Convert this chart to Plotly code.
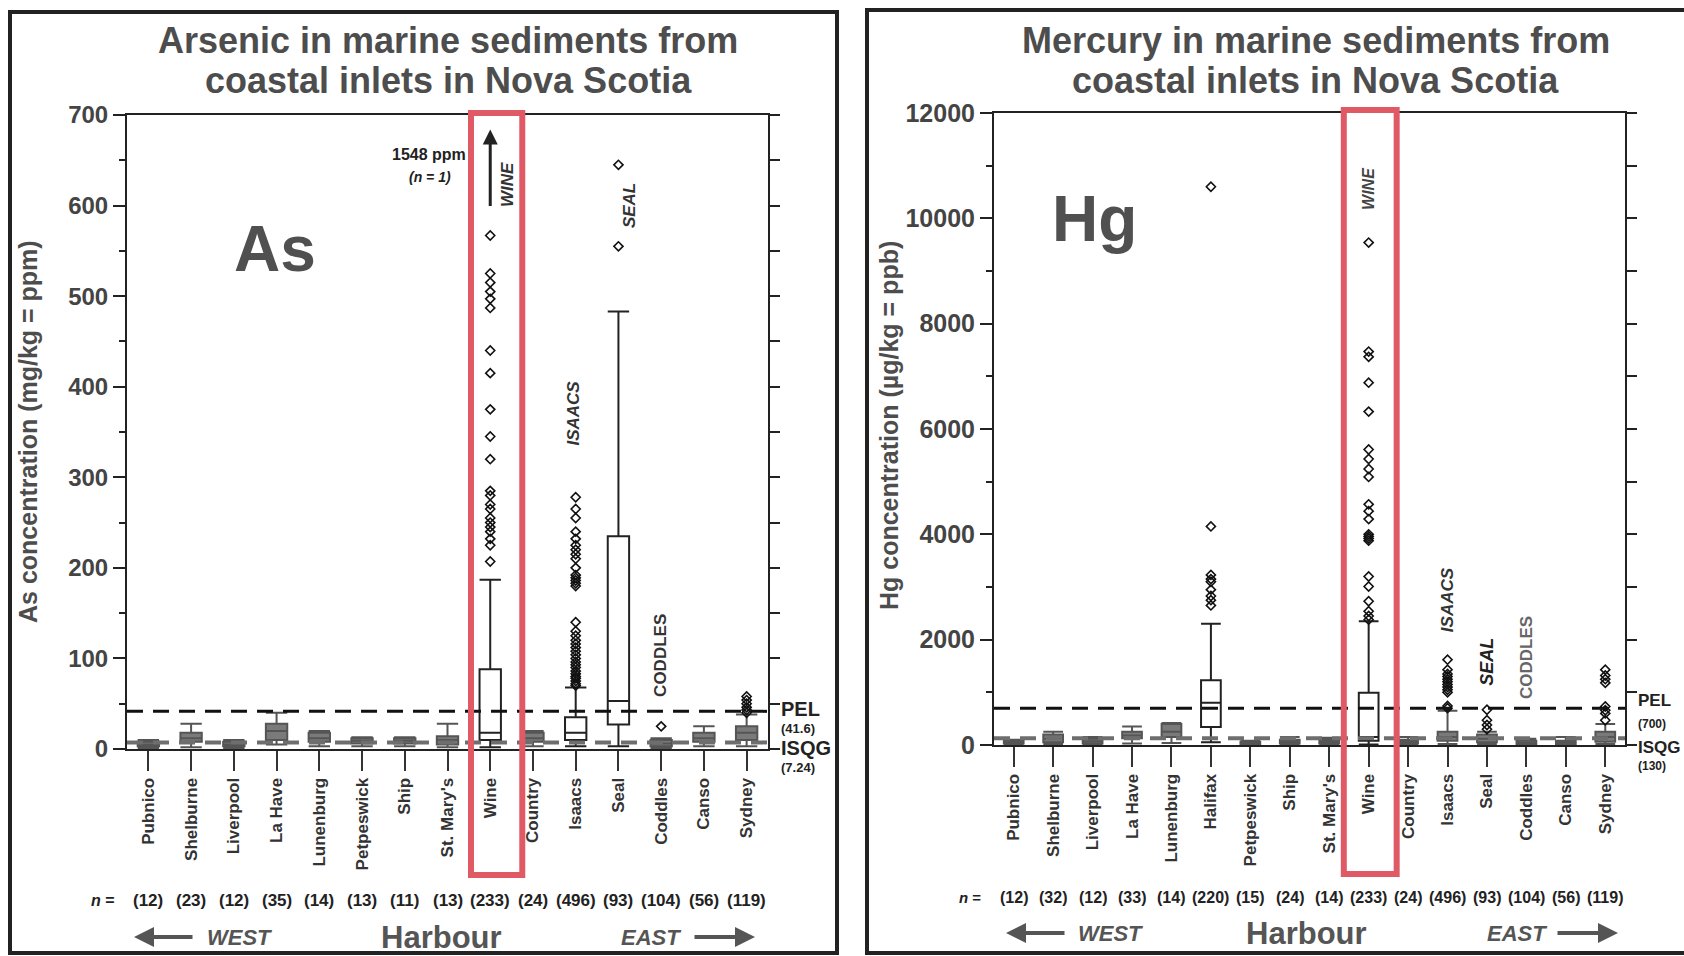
import plotly.graph_objects as go

W, H = 1684, 956
FONT = "Liberation Sans, Arial, sans-serif"

# ---------------- Arsenic (ppm) ----------------
as_harbours = ["Pubnico", "Shelburne", "Liverpool", "La Have", "Lunenburg", "Petpeswick", "Ship",
               "St. Mary's", "Wine", "Country", "Isaacs", "Seal", "Coddles", "Canso", "Sydney"]
as_n = [12, 23, 12, 35, 14, 13, 11, 13, 233, 24, 496, 93, 104, 56, 119]
as_low = [1, 2, 1, 5, 3, 3, 3, 2, 2, 3, 3, 3, 1, 3, 3]
as_q1 = [3, 8, 3, 10, 8, 6, 6, 5, 10, 8, 10, 27, 3, 8, 10]
as_med = [5, 12, 5, 20, 12, 9, 9, 10, 18, 12, 18, 53, 6, 12, 18]
as_q3 = [8, 18, 8, 28, 18, 12, 12, 14, 88, 18, 35, 235, 10, 18, 25]
as_high = [10, 28, 10, 40, 20, 13, 13, 28, 187, 20, 68, 483, 12, 25, 38]
as_out = {
    "Wine": [207, 225, 232, 240, 245, 250, 255, 265, 270, 280, 285, 320, 345, 375, 415, 440,
             487, 497, 505, 515, 525, 567],
    "Isaacs": [70, 72, 75, 78, 80, 83, 86, 90, 93, 96, 100, 104, 108, 112, 116, 120, 125, 130,
               140, 180, 183, 186, 189, 192, 200, 210, 215, 220, 225, 232, 240, 255, 265, 278],
    "Seal": [555, 645],
    "Coddles": [25],
    "Sydney": [40, 43, 46, 50, 54, 58],
}
as_pel, as_isqg = 41.6, 7.24
as_max_wine = 1548

# ---------------- Mercury (ppb) ----------------
hg_harbours = ["Pubnico", "Shelburne", "Liverpool", "La Have", "Lunenburg", "Halifax", "Petpeswick",
               "Ship", "St. Mary's", "Wine", "Country", "Isaacs", "Seal", "Coddles", "Canso", "Sydney"]
hg_n = [12, 32, 12, 33, 14, 220, 15, 24, 14, 233, 24, 496, 93, 104, 56, 119]
hg_low = [10, 20, 10, 30, 40, 50, 5, 10, 10, 10, 10, 20, 20, 5, 5, 20]
hg_q1 = [30, 50, 30, 130, 150, 340, 20, 30, 30, 80, 30, 80, 50, 20, 20, 60]
hg_med = [50, 120, 70, 180, 250, 800, 40, 60, 60, 150, 60, 150, 120, 40, 50, 150]
hg_q3 = [80, 200, 120, 250, 400, 1230, 60, 100, 100, 990, 100, 250, 200, 80, 80, 250]
hg_high = [100, 250, 150, 350, 420, 2300, 80, 150, 140, 2350, 150, 650, 250, 120, 150, 400]
hg_out = {
    "Halifax": [2650, 2750, 2830, 2950, 3100, 3150, 3230, 4150, 10600],
    "Wine": [2380, 2450, 2540, 2730, 3010, 3200, 3880, 3920, 3960, 4000, 4290, 4440, 4570,
             5090, 5240, 5430, 5610, 6330, 6880, 7370, 7470, 9540],
    "Isaacs": [700, 740, 1000, 1050, 1100, 1150, 1200, 1250, 1300, 1350, 1430, 1620],
    "Seal": [300, 380, 470, 670],
    "Sydney": [470, 600, 660, 730, 1180, 1250, 1320, 1430],
}
hg_pel, hg_isqg = 700, 130


def px(x):
    return x / W


def py(y):
    return 1 - y / H


fig = go.Figure()


def add_boxes(cats, lo, q1, med, q3, hi, xa, ya, top):
    for c, a, b, m, d, e in zip(cats, lo, q1, med, q3, hi):
        small = d < 0.05 * top  # tiny boxes look like solid grey blobs in the print
        fig.add_trace(go.Box(x=[c], q1=[b], median=[m], q3=[d], lowerfence=[a], upperfence=[e],
                             boxpoints=False, width=0.5, whiskerwidth=1,
                             fillcolor="#7a7a7a" if small else "white",
                             line=dict(color="#555" if small else "#222", width=2),
                             xaxis=xa, yaxis=ya, showlegend=False, hoverinfo="skip"))


add_boxes(as_harbours, as_low, as_q1, as_med, as_q3, as_high, "x", "y", 700)
add_boxes(hg_harbours, hg_low, hg_q1, hg_med, hg_q3, hg_high, "x2", "y2", 12000)


def outlier_trace(out, xa, ya):
    xs, ys = [], []
    for k, vals in out.items():
        xs += [k] * len(vals)
        ys += vals
    return go.Scatter(x=xs, y=ys, mode="markers", xaxis=xa, yaxis=ya,
                      marker=dict(symbol="diamond-open", size=7, color="#111",
                                  line=dict(width=1.6, color="#111")),
                      showlegend=False, hoverinfo="skip")


fig.add_trace(outlier_trace(as_out, "x", "y"))
fig.add_trace(outlier_trace(hg_out, "x2", "y2"))
# carriers for the right-hand axes
fig.add_trace(go.Scatter(x=[as_harbours[0]], y=[None], xaxis="x", yaxis="y3",
                         showlegend=False, hoverinfo="skip", mode="markers"))
fig.add_trace(go.Scatter(x=[hg_harbours[0]], y=[None], xaxis="x2", yaxis="y4",
                         showlegend=False, hoverinfo="skip", mode="markers"))


def xaxis_cfg(dom, cats, anchor):
    return dict(domain=dom, anchor=anchor, type="category", categoryorder="array",
                categoryarray=cats, range=[-0.5, len(cats) - 0.5], showline=True,
                linecolor="#222", linewidth=2, mirror=True, ticks="outside", ticklen=20,
                tickwidth=2, tickcolor="#333", tickangle=-90,
                tickfont=dict(family=FONT, size=17, color="#333", weight="bold"),
                showgrid=False, zeroline=False, fixedrange=True, automargin=False)


def yaxis_cfg(dom, anchor, top, major, minor, fs):
    return dict(domain=dom, anchor=anchor, range=[0, top], tickvals=major,
                ticktext=[str(v) for v in major], ticks="outside", ticklen=12,
                tickwidth=2, tickcolor="#222", showline=True, linecolor="#222", linewidth=2,
                tickfont=dict(family=FONT, size=fs, color="#444", weight="bold"),
                minor=dict(dtick=minor, ticks="outside", ticklen=6, tickwidth=2,
                           tickcolor="#222", showgrid=False),
                showgrid=False, zeroline=False, fixedrange=True, automargin=False)


def right_cfg(over, anchor, top, step):
    return dict(overlaying=over, anchor=anchor, side="right", range=[0, top],
                tickvals=list(range(0, top + 1, step)), showticklabels=False,
                ticks="outside", ticklen=10, tickwidth=2, tickcolor="#222", showline=True,
                linecolor="#222", linewidth=2, showgrid=False, zeroline=False,
                fixedrange=True, automargin=False)


fig.update_layout(
    width=W, height=H, margin=dict(l=0, r=0, t=0, b=0, pad=0, autoexpand=False),
    autosize=False, paper_bgcolor="white", plot_bgcolor="white", boxmode="overlay",
    showlegend=False,
    xaxis=xaxis_cfg([px(127), px(768)], as_harbours, "y"),
    xaxis2=xaxis_cfg([px(994), px(1625)], hg_harbours, "y2"),
    yaxis=yaxis_cfg([py(749), py(115)], "x", 700, list(range(0, 701, 100)), 50, 24),
    yaxis2=yaxis_cfg([py(745), py(113)], "x2", 12000, list(range(0, 12001, 2000)), 1000, 25),
    yaxis3=right_cfg("y", "x", 700, 50),
    yaxis4=right_cfg("y2", "x2", 12000, 1000),
)

shapes = []
for xr, yr, pel, isqg in [("x", "y", as_pel, as_isqg), ("x2", "y2", hg_pel, hg_isqg)]:
    shapes.append(dict(type="line", xref=xr + " domain", yref=yr, x0=0, x1=1, y0=isqg, y1=isqg,
                       line=dict(color="#6e6e6e", width=4, dash="16px,10px")))
    shapes.append(dict(type="line", xref=xr + " domain", yref=yr, x0=0, x1=1, y0=pel, y1=pel,
                       line=dict(color="#111", width=3, dash="16px,10px")))

wa = as_harbours.index("Wine")
wh = hg_harbours.index("Wine")
shapes.append(dict(type="rect", xref="x", yref="paper", x0=wa - 0.45, x1=wa + 0.75,
                   y0=py(875), y1=py(113), line=dict(color="#e05a66", width=6)))
shapes.append(dict(type="rect", xref="x2", yref="paper", x0=wh - 0.63, x1=wh + 0.71,
                   y0=py(874), y1=py(110), line=dict(color="#e05a66", width=6)))
shapes.append(dict(type="rect", xref="paper", yref="paper", x0=px(10), x1=px(837),
                   y0=py(953), y1=py(12), line=dict(color="#222", width=4)))
shapes.append(dict(type="rect", xref="paper", yref="paper", x0=px(867), x1=px(1700),
                   y0=py(953), y1=py(10), line=dict(color="#222", width=4)))
fig.update_layout(shapes=shapes)

ann = []


def A(text, x, y, size, xref="paper", yref="paper", color="#444", bold=True, italic=False,
      angle=0, xanchor="center", yanchor="middle"):
    f = dict(family=FONT, size=size, color=color)
    if bold:
        f["weight"] = "bold"
    if italic:
        f["style"] = "italic"
    ann.append(dict(text=text, x=x, y=y, xref=xref, yref=yref, showarrow=False, font=f,
                    textangle=angle, xanchor=xanchor, yanchor=yanchor))


# titles
A("Arsenic in marine sediments from", px(448), py(40), 36, color="#4d4d4d")
A("coastal inlets in Nova Scotia", px(448), py(81), 36, color="#4d4d4d")
A("Mercury in marine sediments from", px(1316), py(40), 36, color="#4d4d4d")
A("coastal inlets in Nova Scotia", px(1315), py(80), 36, color="#4d4d4d")
# axis titles
A("As concentration (mg/kg = ppm)", px(28), py(432), 25, angle=-90, color="#4d4d4d")
A("Hg concentration (µg/kg = ppb)", px(889), py(426), 25, angle=-90, color="#4d4d4d")
# element labels
A("As", px(275), py(249), 64, color="#505050")
A("Hg", px(1094), py(219), 64, color="#505050")

# site labels
A("WINE", wa + 0.4, 623, 17, "x", "y", italic=True, angle=-90, color="#333")
A("SEAL", as_harbours.index("Seal") + 0.26, 600, 17, "x", "y", italic=True, angle=-90, color="#333")
A("ISAACS", as_harbours.index("Isaacs") - 0.05, 371, 17, "x", "y", italic=True, angle=-90, color="#333")
A("CODDLES", as_harbours.index("Coddles"), 103, 17, "x", "y", angle=-90, color="#333")
A(f"{as_max_wine} ppm", wa - 0.52, 656, 16, "x", "y", color="#222", xanchor="right")
A("(<i>n</i> = 1)", wa - 1.4, 631, 14, "x", "y", italic=True, color="#222")
ann.append(dict(x=wa, y=684, ax=wa, ay=598, xref="x", yref="y", axref="x", ayref="y",
                showarrow=True, arrowhead=2, arrowsize=1, arrowwidth=3, arrowcolor="#222", text=""))

A("WINE", wh, 10570, 16, "x2", "y2", italic=True, angle=-90, color="#444")
A("ISAACS", hg_harbours.index("Isaacs"), 2760, 17, "x2", "y2", italic=True, angle=-90, color="#333")
A("SEAL", hg_harbours.index("Seal"), 1580, 18, "x2", "y2", italic=True, angle=-90, color="#222")
A("CODDLES", hg_harbours.index("Coddles"), 1660, 17, "x2", "y2", angle=-90, color="#666")

# guideline labels
A("PEL", px(779), py(709), 20, color="#222", xanchor="left")
A(f"({as_pel})", px(779), py(728), 13, color="#222", xanchor="left")
A("ISQG", px(779), py(748), 20, color="#222", xanchor="left")
A(f"({as_isqg})", px(779), py(767), 13, color="#222", xanchor="left")
A("PEL", px(1636), py(700), 17, color="#222", xanchor="left")
A(f"({hg_pel})", px(1636), py(724), 12, color="#222", xanchor="left")
A("ISQG", px(1636), py(747), 17, color="#222", xanchor="left")
A(f"({hg_isqg})", px(1636), py(766), 12, color="#222", xanchor="left")

# n row
A("<i>n</i> =", px(103), py(900), 16, color="#222")
for i, n in enumerate(as_n):
    A(f"({n})", i, py(900), 17, "x", "paper", color="#222")
A("<i>n</i> =", px(970), py(897), 15, color="#222")
for i, n in enumerate(hg_n):
    A(f"({n})", i, py(897), 16, "x2", "paper", color="#222")

# direction row
for (wx, wtx, hx, etx, ex, yy) in [(134, 239, 441, 651, 755, 937), (1006, 1110, 1306, 1517, 1618, 933)]:
    ann.append(dict(x=px(wx), y=py(yy), xref="paper", yref="paper", ax=60, ay=0,
                    showarrow=True, arrowhead=2, arrowsize=1, arrowwidth=4,
                    arrowcolor="#555", text=""))
    ann.append(dict(x=px(ex), y=py(yy), xref="paper", yref="paper", ax=-62, ay=0,
                    showarrow=True, arrowhead=2, arrowsize=1, arrowwidth=4,
                    arrowcolor="#555", text=""))
    A("WEST", px(wtx), py(yy), 22, italic=True, color="#555")
    A("Harbour", px(hx), py(yy), 31, color="#555")
    A("EAST", px(etx), py(yy), 22, italic=True, color="#555")

fig.update_layout(annotations=ann)
fig.write_html("out.html", config={"displayModeBar": False},
               post_script="document.body.style.margin='0px';document.body.style.overflow='hidden';")
